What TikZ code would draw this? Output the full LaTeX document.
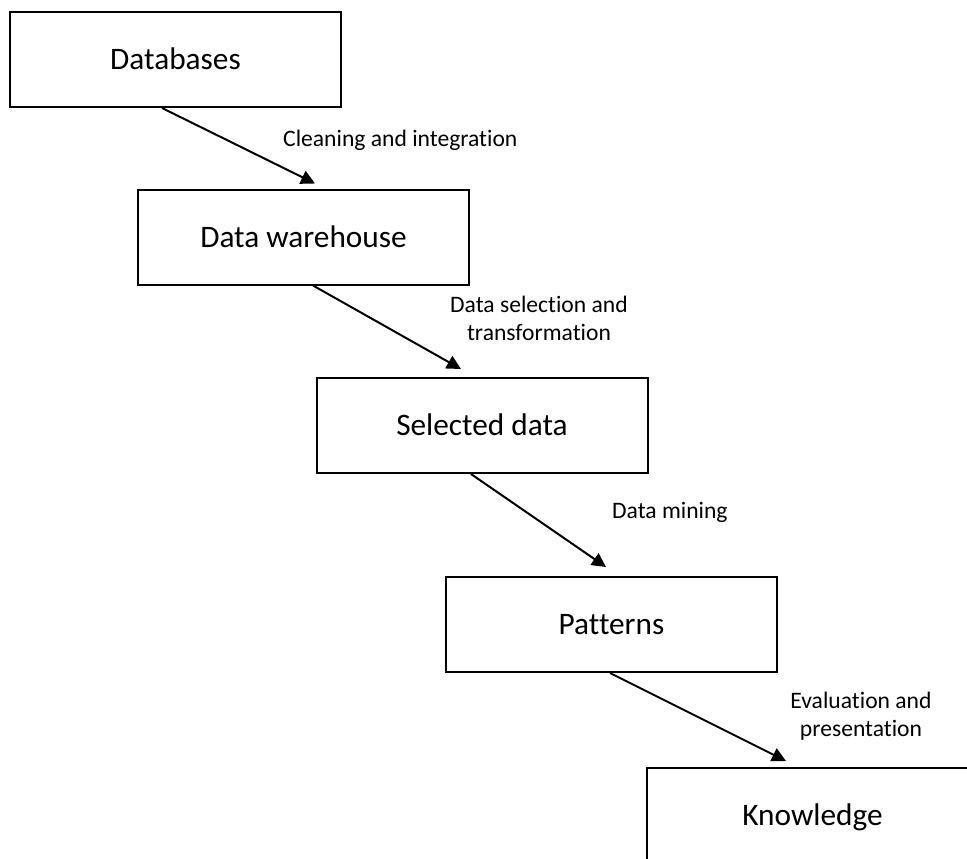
\documentclass[tikz,border=0pt]{standalone}
\usepackage{fontspec}
\setmainfont{Carlito}[Ligatures={NoCommon}]
\usetikzlibrary{arrows.meta,calc}

\tikzset{
  stagebox/.style={draw=black, line width=2pt, minimum width=331pt, minimum height=95pt,
    inner sep=0pt, text height=20pt, text depth=0pt, font=\fontsize{31.3}{36}\selectfont},
  steplabel/.style={inner sep=0pt, align=center, font=\fontsize{23.6}{28}\selectfont},
  flow/.style={line width=2pt, -{Triangle[length=14pt,width=14pt]}}
}

\begin{document}
\begin{tikzpicture}[x=1pt,y=-1pt]
  \useasboundingbox (0,0) rectangle (967,859);
  \clip (0,0) rectangle (967,859);

  % process stages
  \node[stagebox] (db) at (175.5,59.5) {Databases};
  \node[stagebox] (dw) at (303.5,237) {Data warehouse};
  \node[stagebox] (sd) at (482,425.5) {Selected data};
  \node[stagebox] (pt) at (611.5,624.5) {Patterns};
  \node[stagebox] (kn) at (812.5,815.5) {Knowledge};

  % step names (two-line ones anchored on the last line's baseline)
  \node[steplabel, anchor=base west] (l1) at (283,146) {Cleaning and integration};
  \node[steplabel, anchor=base] (l2) at (539,340) {Data selection and\\transformation};
  \node[steplabel, anchor=base west] (l3) at (612,518) {Data mining};
  \node[steplabel, anchor=base] (l4) at (861,736) {Evaluation and\\presentation};

  % connectors between stages
  \draw[flow] ($(db.south)+(-13.5,0)$) -- ($(dw.north)+(11.5,-5)$);
  \draw[flow] ($(dw.south)+(9.5,0)$) -- ($(sd.north)+(-21,-8)$);
  \draw[flow] ($(sd.south)+(-11,0)$) -- ($(pt.north)+(-5.5,-9)$);
  \draw[flow] ($(pt.south)+(-1.5,0)$) -- ($(kn.north)+(-26.5,-6)$);
\end{tikzpicture}
\end{document}
